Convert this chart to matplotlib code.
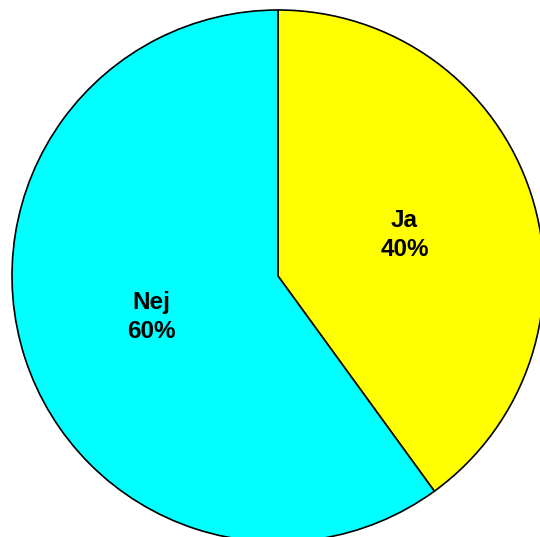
import matplotlib.pyplot as plt

# data
labels = ['Ja', 'Nej']
values = [40, 60]
colors = ['#FFFF00', '#00FFFF']

plt.rcParams['font.family'] = ['Liberation Sans', 'DejaVu Sans']

fig = plt.figure(figsize=(5.4, 5.37), dpi=100)
ax = fig.add_axes([0, 0, 1, 1])

wedges, texts = ax.pie(values, colors=colors, startangle=90, counterclock=False,
                       center=(278, 261), radius=266,
                       labels=[f'{l}\n{v}%' for l, v in zip(labels, values)],
                       labeldistance=0.5,
                       wedgeprops=dict(edgecolor='black', linewidth=1.2),
                       textprops=dict(fontsize=17.5, fontweight='bold', ha='center', va='center'))
for t in texts:
    t.set_linespacing(1.3)

ax.set_xlim(0, 540)
ax.set_ylim(0, 537)
ax.set_aspect('equal')
ax.axis('off')

fig.savefig('out.png', dpi=100)
